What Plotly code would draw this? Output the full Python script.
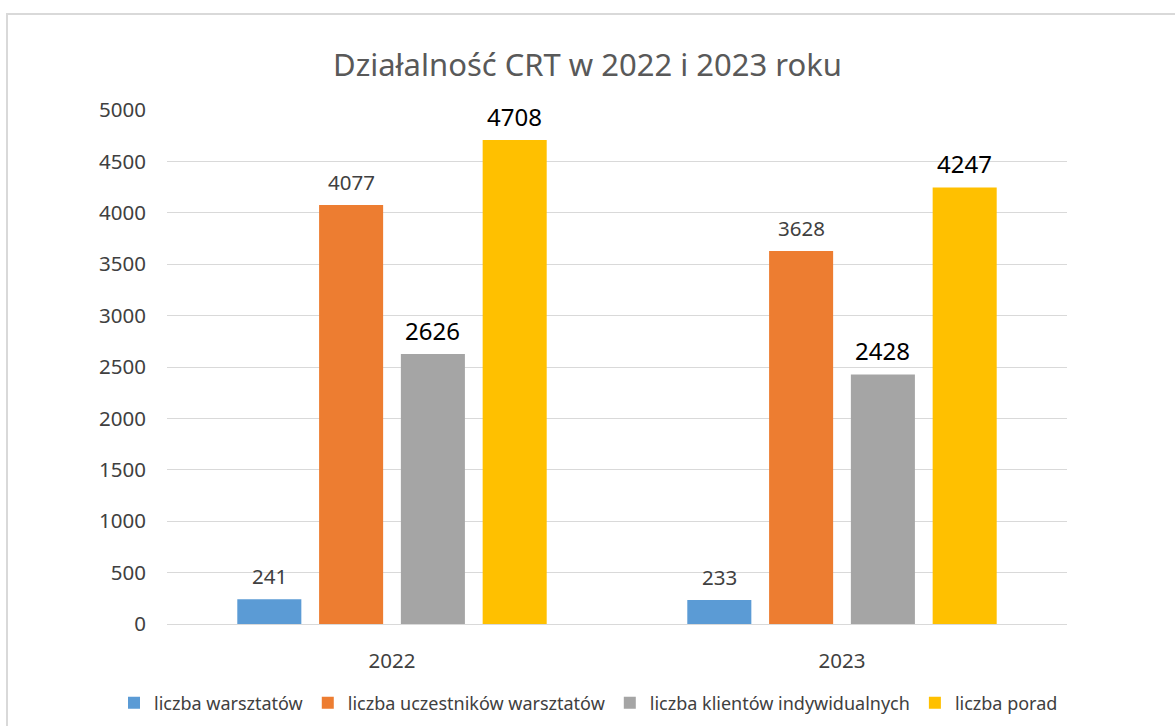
import plotly.graph_objects as go

years = ["2022", "2023"]
series_names = ["liczba warsztatów", "liczba uczestników warsztatów",
                "liczba klientów indywidualnych", "liczba porad"]
warsztaty = [241, 233]
uczestnicy = [4077, 3628]
klienci = [2626, 2428]
porady = [4708, 4247]
colors = ["#5B9BD5", "#ED7D31", "#A5A5A5", "#FFC000"]
# which data labels are drawn larger and black (per series)
big_label_series = [False, False, True, True]

all_values = [warsztaty, uczestnicy, klienci, porady]

FONT = "Noto Sans"
bargap = 0.273
bargroupgap = 0.217

fig = go.Figure()
for name, vals, col in zip(series_names, all_values, colors):
    fig.add_trace(go.Bar(x=years, y=vals, name=name, marker_color=col,
                         marker_line_width=0))

annotations = []
n = len(all_values)
slot = (1 - bargap) / n
for si, vals in enumerate(all_values):
    big = big_label_series[si]
    for yi, v in enumerate(vals):
        annotations.append(dict(
            x=yi + (si - (n - 1) / 2) * slot, y=v, xref="x", yref="y",
            text=str(v), showarrow=False, yshift=24 if big else 23,
            font=dict(family=FONT, size=24 if big else 20.5,
                      color="#000000" if big else "#404040")))

fig.update_layout(
    width=1175, height=726,
    paper_bgcolor="white", plot_bgcolor="white",
    margin=dict(l=167, r=108, t=110, b=102, autoexpand=False),
    barmode="group", bargap=bargap, bargroupgap=bargroupgap,
    title=dict(text="Działalność CRT w 2022 i 2023 roku", x=0.5, xanchor="center",
               y=1 - 65 / 726, yanchor="middle",
               font=dict(family=FONT, size=31, color="#595959")),
    font=dict(family=FONT, color="#404040"),
    legend=dict(orientation="h", x=(114 - 167) / 900, xanchor="left",
                y=(624 - 703) / 514, yanchor="middle",
                font=dict(family=FONT, size=18, color="#404040"),
                itemwidth=30, tracegroupgap=0),
    annotations=annotations,
    shapes=[dict(type="rect", xref="paper", yref="paper",
                 x0=(7 - 167) / 900, x1=1.3, y0=-0.3, y1=(624 - 14) / 514,
                 line=dict(color="#D9D9D9", width=2), fillcolor="rgba(0,0,0,0)",
                 layer="below")],
)
fig.update_yaxes(range=[0, 5000], dtick=500, showgrid=True, gridcolor="#D9D9D9",
                 gridwidth=1, zeroline=False, showline=False,
                 tickfont=dict(family=FONT, size=20.5, color="#404040"), ticks="",
                 ticklabelstandoff=20, automargin=False)
fig.update_xaxes(showline=True, linecolor="#D9D9D9", linewidth=1, ticks="",
                 tickfont=dict(family=FONT, size=20.5, color="#404040"),
                 ticklabelstandoff=18, automargin=False)

fig.write_html("out.html", config={"displayModeBar": False},
               post_script="document.body.style.margin='0';")
